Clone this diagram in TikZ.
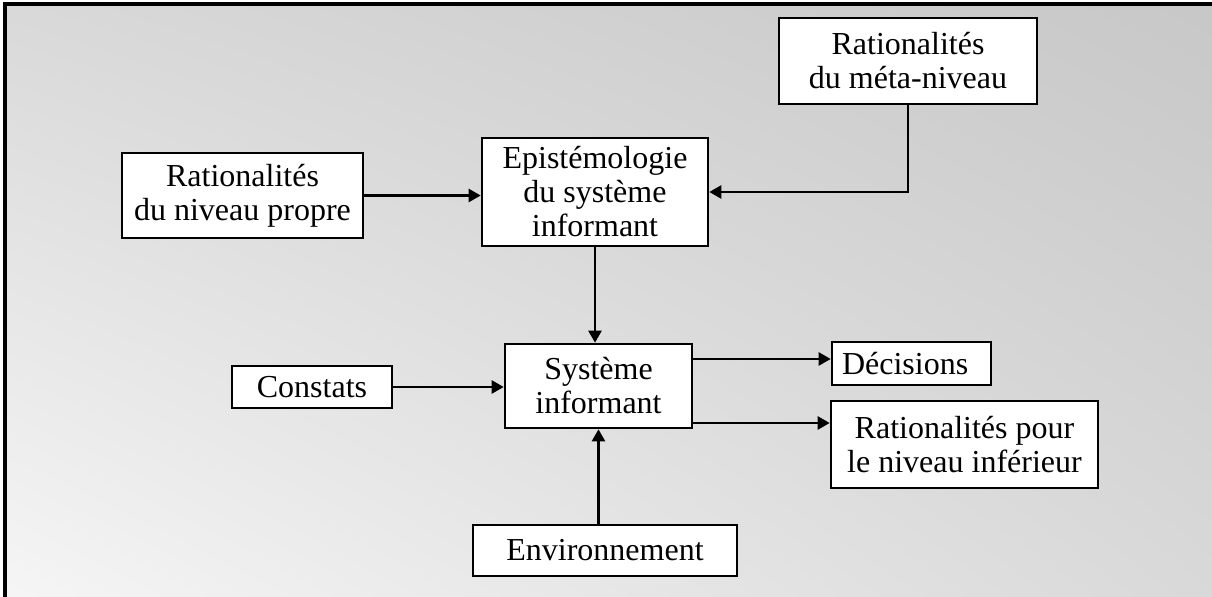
\documentclass[tikz,border=0pt]{standalone}
\usepackage{fontspec}
\setmainfont{Liberation Serif}
\usetikzlibrary{arrows.meta,shadings}

\tikzset{
  bloc/.style={draw=black, line width=1.3pt, fill=white, align=center, inner sep=2pt,
    font=\fontsize{16}{17}\selectfont},
  fleche/.style={line width=1.2pt, -{Triangle[length=6pt,width=6.5pt]}}
}

\begin{document}
\begin{tikzpicture}[x=0.5pt,y=-0.5pt]
        \useasboundingbox (0,0) rectangle (1212,597);
        % fond et cadre
        \begin{scope}
            \clip (5,4) rectangle (1212,597);
            \shade[upper left=black!15, upper right=black!22, lower left=black!3, lower right=black!15] (5,4) rectangle (1260,640);
        \end{scope}
        \draw [line width=1.6pt] (5,597) -- (5,4) -- (1212,4);
        % blocs
        \node[bloc, minimum width=120.5pt, minimum height=42.5pt] (propre) at (242.5,195.5) {Rationalités\\du niveau propre};
        \node[bloc, minimum width=113pt, minimum height=54pt] (episteme) at (595,192) {Epistémologie\\du système\\informant};
        \node[bloc, minimum width=129pt, minimum height=43pt] (meta) at (908,61) {Rationalités\\du méta-niveau};
        \node[bloc, minimum width=93.5pt, minimum height=42pt] (systeme) at (598.5,386) {Système\\informant};
        \node[bloc, minimum width=80pt, minimum height=21pt] (constats) at (312,387) {Constats};
        \node[bloc, text width=69.5pt, inner xsep=5pt, align=left, minimum height=21.5pt] (decisions) at (911.5,363.5) {Décisions};
        \node[bloc, minimum width=133.5pt, minimum height=43.5pt] (inferieur) at (964.5,444.5) {Rationalités pour\\le niveau inférieur};
        \node[bloc, minimum width=132pt, minimum height=25.5pt] (environnement) at (605,550.5) {Environnement};
        % fleches
        \draw [fleche] (propre.east) -- (propre.east -| episteme.west);
        \draw [fleche] (meta.south) |- (episteme.east);
        \draw [fleche] (episteme.south) -- (episteme.south |- systeme.north);
        \draw [fleche] (constats.east) -- (constats.east -| systeme.west);
        \draw [fleche] ([yshift=13.5pt]systeme.east) -- ([yshift=13.5pt]systeme.east -| decisions.west);
        \draw [fleche] ([yshift=-18.5pt]systeme.east) -- ([yshift=-18.5pt]systeme.east -| inferieur.west);
        \draw [fleche] (systeme.south |- environnement.north) -- (systeme.south);
    \end{tikzpicture}
\end{document}
